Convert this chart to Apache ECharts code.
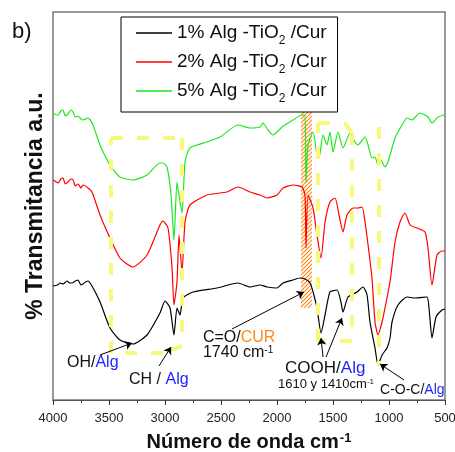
<!DOCTYPE html>
<html>
<head>
<meta charset="utf-8">
<script src="https://cdn.jsdelivr.net/npm/echarts@6/dist/echarts.min.js"></script>
<style>
    html, body {margin: 0; padding: 0; background: #fff;}
    #charts {width: 455px; height: 452px;}
</style>
</head>
<body>
<div id="charts"></div>
<script>

    // wavenumber (cm-1) / transmittance (a.u.)
    var blackX = [4000, 3960, 3937, 3910, 3875, 3850, 3830, 3800, 3777, 3750, 3732, 3710, 3687, 3652, 3580, 3491, 3402, 3286, 3161, 3045, 3000, 2955, 2920, 2893, 2866, 2839, 2750, 2536, 2348, 2241, 2152, 2089, 2000, 1946, 1857, 1795, 1750, 1705, 1678, 1643, 1607, 1571, 1527, 1464, 1429, 1411, 1366, 1286, 1232, 1196, 1170, 1125, 1098, 1062, 1018, 991, 973, 920, 839, 768, 661, 643, 616, 580, 527, 500];
    var blackY = [114, 115, 117, 116, 119, 117, 117, 119, 120, 115, 116, 118, 119, 114, 98, 72, 60, 56, 65, 87, 99, 92, 65, 92, 85, 102, 108, 112, 117, 113, 115, 113, 112, 117, 120, 122, 121, 117, 108, 92, 67, 85, 108, 110, 98, 88, 103, 108, 113, 105, 78, 52, 35, 45, 52, 62, 78, 95, 103, 102, 103, 92, 62, 83, 90, 91];

    var redX = [4000, 3970, 3955, 3930, 3911, 3890, 3866, 3840, 3821, 3800, 3777, 3750, 3732, 3687, 3652, 3580, 3491, 3402, 3286, 3161, 3045, 3018, 2973, 2937, 2920, 2893, 2875, 2848, 2821, 2777, 2625, 2446, 2348, 2241, 2152, 2089, 2000, 1946, 1857, 1777, 1750, 1741, 1723, 1678, 1643, 1607, 1571, 1527, 1482, 1446, 1411, 1375, 1321, 1277, 1241, 1214, 1187, 1152, 1125, 1098, 1062, 1036, 991, 946, 902, 857, 812, 750, 679, 652, 616, 571, 527, 500];
    var redY = [220, 218, 217, 221, 222, 216, 218, 221, 220, 214, 216, 212, 215, 212, 208, 185, 162, 142, 133, 145, 175, 179, 172, 132, 95, 118, 165, 128, 178, 195, 205, 208, 213, 208, 205, 202, 205, 212, 215, 213, 205, 152, 205, 192, 165, 142, 178, 198, 202, 185, 168, 185, 192, 192, 193, 178, 155, 122, 78, 65, 78, 92, 118, 158, 178, 187, 175, 172, 168, 152, 115, 145, 149, 149];

    var greenX = [4000, 3970, 3955, 3930, 3911, 3890, 3866, 3840, 3821, 3800, 3777, 3750, 3732, 3687, 3643, 3580, 3491, 3402, 3286, 3161, 3045, 3018, 2982, 2946, 2920, 2893, 2875, 2848, 2821, 2777, 2625, 2509, 2348, 2241, 2152, 2125, 2080, 2036, 2000, 1955, 1857, 1777, 1750, 1741, 1723, 1678, 1643, 1625, 1589, 1554, 1527, 1500, 1455, 1411, 1348, 1304, 1277, 1214, 1187, 1152, 1125, 1098, 1071, 1036, 1009, 946, 884, 839, 795, 723, 652, 616, 562, 500];
    var greenY = [287, 285, 285, 289, 290, 284, 286, 290, 288, 283, 284, 281, 280, 282, 275, 255, 235, 223, 220, 225, 237, 237, 233, 205, 160, 218, 205, 187, 238, 252, 258, 263, 275, 272, 273, 277, 270, 265, 268, 273, 280, 285, 285, 217, 255, 268, 245, 242, 265, 255, 268, 248, 268, 252, 267, 258, 255, 263, 255, 242, 243, 235, 240, 233, 238, 262, 275, 282, 280, 287, 283, 277, 283, 285];

    var seriesNames = ['1% Alg -TiO{sub|2} /Cur', '2% Alg -TiO{sub|2} /Cur', '5% Alg -TiO{sub|2} /Cur'];
    var seriesColors = ['#000000', '#ff0000', '#1ee81e'];

    var xTicks = [500, 1000, 1500, 2000, 2500, 3000, 3500, 4000];

    // yellow dashed guide boxes [wavenumber, transmittance] corners
    var ohBox = [[3482, 262], [2848, 262], [2848, 54], [3018, 47], [3482, 47], [3482, 262]];
    var coohBox = [[1634, 277], [1393, 277], [1330, 267], [1330, 59], [1634, 59], [1634, 277]];
    var cocLine = [[1089, 273], [1089, 35]];
    var cureBand = [[1786, 295], [1688, 92]];

    // arrows: [from, to]
    var arrows = [
        [[3580, 45], [3295, 57]],
        [[3054, 34], [2946, 53]],
        [[2402, 71], [1759, 108]],
        [[1589, 43], [1607, 62]],
        [[1562, 43], [1420, 82]],
        [[866, 20], [1080, 36]]
    ];

    // labels: [wavenumber, transmittance, rich text, size]
    var labels = [
        [3875, 37, 'OH/{b|Alg}', 16],
        [3321, 20, 'CH / {b|Alg}', 16],
        [2661, 62, 'C=O/{o|CUR}', 16],
        [2661, 47, '1740 cm{sup|-1}', 16],
        [1928, 32, 'COOH/{b|Alg}', 17],
        [1991, 16, '1610 y 1410cm{sup|-1}', 13],
        [1080, 10, 'C-O-C/{b|Alg}', 14]
    ];

    var font = 'Liberation Sans, Arial, sans-serif';
    var chart = echarts.init(document.getElementById('charts'));

    function zip(xs, ys) {
        return xs.map(function (x, i) {
            return [x, ys[i]];
        });
    }

    function polySegments(points) {
        var segs = [];
        for (var i = 0; i < points.length - 1; i++) {
            segs.push([{coord: points[i]}, {coord: points[i + 1]}]);
        }
        return segs;
    }

    // orange hatch
    var hatch = document.createElement('canvas');
    hatch.width = 4;
    hatch.height = 4;
    var ctx = hatch.getContext('2d');
    ctx.strokeStyle = '#ff8a1c';
    ctx.lineWidth = 1.2;
    ctx.beginPath();
    ctx.moveTo(-1, 5);
    ctx.lineTo(5, -1);
    ctx.moveTo(-1, 1);
    ctx.lineTo(1, -1);
    ctx.moveTo(3, 5);
    ctx.lineTo(5, 3);
    ctx.stroke();

    var dataSets = [zip(blackX, blackY), zip(redX, redY), zip(greenX, greenY)];

    var series = [{
        type: 'line',
        name: 'guides',
        data: [],
        silent: true,
        markLine: {
            silent: true,
            animation: false,
            symbol: 'none',
            label: {show: false},
            lineStyle: {color: '#f8f87a', width: 4, type: [12, 14], opacity: 1},
            emphasis: {disabled: true},
            data: polySegments(ohBox).concat(polySegments(coohBox), polySegments(cocLine))
        }
    }];

    dataSets.forEach(function (d, i) {
        series.push({
            type: 'line',
            name: seriesNames[i],
            data: d,
            symbol: 'none',
            smooth: 0.2,
            color: seriesColors[i],
            lineStyle: {width: 1.2, color: seriesColors[i]},
            animation: false
        });
    });

    series.push({
        type: 'line',
        name: 'notes',
        data: [],
        silent: true,
        z: 5,
        markArea: {
            silent: true,
            itemStyle: {color: {image: hatch, repeat: 'repeat'}},
            data: [[{coord: cureBand[0]}, {coord: cureBand[1]}]]
        },
        markLine: {
            silent: true,
            animation: false,
            symbol: ['none', 'arrow'],
            symbolSize: 7,
            label: {show: false},
            lineStyle: {color: '#000', width: 1, type: 'solid'},
            emphasis: {disabled: true},
            data: arrows.map(function (a) {
                return [{coord: a[0]}, {coord: a[1]}];
            })
        }
    });

    var option = {
        animation: false,
        backgroundColor: '#fff',
        grid: {
            left: 53, right: 10, top: 12, bottom: 52,
            outerBoundsMode: 'none',
            containLabel: false,
            show: true, borderColor: '#7a7a7a', borderWidth: 1.5
        },
        legend: {
            orient: 'vertical',
            left: 121,
            top: 17,
            data: seriesNames,
            icon: 'rect',
            itemWidth: 36,
            itemHeight: 1.3,
            itemGap: 4,
            padding: [5, 11, 7, 15],
            borderColor: '#000',
            borderWidth: 1,
            borderRadius: 0,
            backgroundColor: '#fff',
            selectedMode: false,
            textStyle: {
                fontFamily: font,
                fontSize: 19,
                color: '#111',
                lineHeight: 22,
                rich: {
                    sub: {fontSize: 12, fontFamily: font, color: '#111', padding: [16, 0, 0, 0]}
                }
            }
        },
        xAxis: {
            type: 'value',
            inverse: true,
            min: 500,
            max: 4000,
            interval: 500,
            splitLine: {show: false},
            axisLine: {lineStyle: {color: '#555', width: 1.2}},
            axisTick: {length: 5, lineStyle: {color: '#333'}},
            minorTick: {show: true, splitNumber: 2, length: 3, lineStyle: {color: '#333'}},
            axisLabel: {
                fontFamily: font, fontSize: 13, color: '#222', margin: 12,
                formatter: function (v) {
                    return xTicks.indexOf(v) >= 0 ? String(v) : '';
                }
            },
            name: 'Número de onda cm{sup|-1}',
            nameLocation: 'middle',
            nameGap: 32,
            nameTextStyle: {
                fontFamily: font, fontSize: 20, fontWeight: 'bold', color: '#111',
                rich: {
                    sup: {fontSize: 13, fontWeight: 'bold', fontFamily: font, color: '#111', verticalAlign: 'top', padding: [0, 0, 6, 1]}
                }
            }
        },
        yAxis: {
            type: 'value',
            min: 0,
            max: 388,
            axisLine: {show: false},
            axisTick: {show: false},
            axisLabel: {show: false},
            splitLine: {show: false},
            name: '% Transmitancia a.u.',
            nameLocation: 'middle',
            nameGap: 6,
            nameTextStyle: {fontFamily: font, fontSize: 23, fontWeight: 'bold', color: '#111'}
        },
        series: series
    };

    chart.setOption(option);

    var richStyles = {
        b: {fill: '#1f1fff'},
        o: {fill: '#ff8a1c'},
        sup: {fontSize: 10, verticalAlign: 'top', padding: [0, 0, 4, 0]}
    };

    var graphics = [{
        type: 'text',
        left: 12,
        top: 21,
        style: {text: 'b)', font: '22px ' + font, fill: '#111'}
    }];

    labels.forEach(function (l) {
        var p = chart.convertToPixel({gridIndex: 0}, [l[0], l[1]]);
        var rich = {};
        Object.keys(richStyles).forEach(function (k) {
            rich[k] = Object.assign({fontSize: l[3], fontFamily: font}, richStyles[k]);
        });
        rich.sup.fontSize = Math.round(l[3] * 0.65);
        graphics.push({
            type: 'text',
            x: p[0],
            y: p[1],
            z: 10,
            style: {
                text: l[2],
                font: l[3] + 'px ' + font,
                fill: '#111',
                verticalAlign: 'middle',
                align: 'left',
                rich: rich
            }
        });
    });

    chart.setOption({graphic: graphics});

</script>
</body>
</html>
